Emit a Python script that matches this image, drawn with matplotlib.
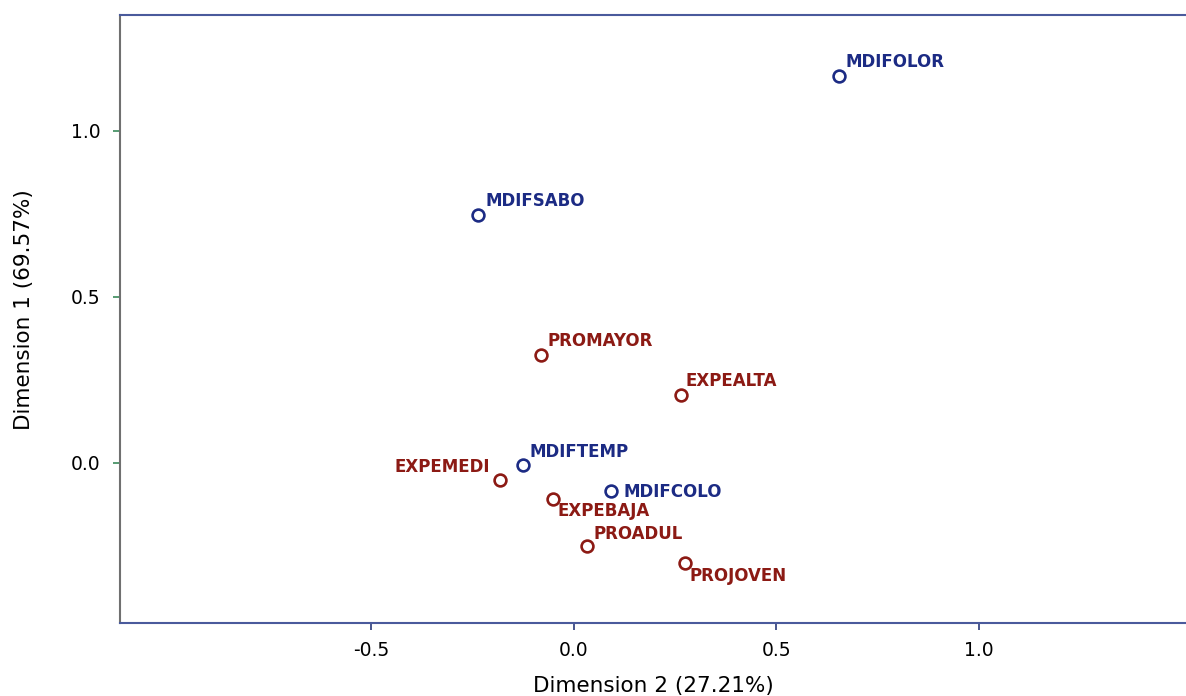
import matplotlib
matplotlib.use("Agg")
import matplotlib.pyplot as plt

# Data
labels = ["MDIFOLOR", "MDIFSABO", "PROMAYOR", "EXPEALTA", "MDIFTEMP",
          "EXPEMEDI", "MDIFCOLO", "EXPEBAJA", "PROADUL", "PROJOVEN"]
dim2 = [0.656, -0.236, -0.080, 0.264, -0.125, -0.182, 0.092, -0.051, 0.034, 0.274]
dim1 = [1.165, 0.746, 0.324, 0.204, -0.008, -0.052, -0.084, -0.110, -0.251, -0.301]
groups = ["col", "col", "row", "row", "col", "row", "col", "row", "row", "row"]
xticks = [-0.5, 0.0, 0.5, 1.0]
yticks = [0.0, 0.5, 1.0]

BLUE = "#1c2b84"
RED = "#8c1a14"
colors = {"col": BLUE, "row": RED}
# label placement (offset pixels, alignment)
offsets = {
    "MDIFOLOR": (6, 14, "left"),
    "MDIFSABO": (7, 14, "left"),
    "PROMAYOR": (6, 14, "left"),
    "EXPEALTA": (5, 14, "left"),
    "MDIFTEMP": (7, 13, "left"),
    "EXPEMEDI": (-10, 13, "right"),
    "MDIFCOLO": (13, -1, "left"),
    "EXPEBAJA": (5, -12, "left"),
    "PROADUL": (6, 12, "left"),
    "PROJOVEN": (5, -13, "left"),
}

plt.rcParams['font.family'] = ['DejaVu Sans']
fig = plt.figure(figsize=(11.86, 6.96), dpi=100)
ax = fig.add_axes([120/1186, 1-622.7/696, 1-120/1186, (622.7-15)/696])

for lab, x, y, g in zip(labels, dim2, dim1, groups):
    c = colors[g]
    ax.plot([x], [y], marker='o', markersize=8.5, markerfacecolor='white',
            markeredgecolor=c, markeredgewidth=1.9, linestyle='none')
    dx, dy, ha = offsets[lab]
    ax.annotate(lab, (x, y), xytext=(dx, dy), textcoords='offset pixels',
                ha=ha, va='center', color=c, fontsize=12, fontweight='bold')

ax.set_xlim(-1.12, 1.512)
ax.set_ylim(-0.482, 1.3485)
ax.set_xticks(xticks)
ax.set_xticklabels([f"{v:.1f}" for v in xticks])
ax.set_yticks(yticks)
ax.set_yticklabels([f"{v:.1f}" for v in yticks])

ax.spines['right'].set_visible(False)
ax.spines['left'].set_color('#707070')
ax.spines['top'].set_color('#4a5a9c')
ax.spines['bottom'].set_color('#4a5a9c')
for s in ax.spines.values():
    s.set_linewidth(1.5)
ax.tick_params(axis='x', colors='#2a3a7a', labelcolor='black', length=5, width=1.2,
               labelsize=13.5, pad=8)
ax.tick_params(axis='y', colors='#3a8a5a', labelcolor='black', length=5, width=1.2,
               labelsize=13.5, pad=9)

ax.set_xlabel("Dimension 2 (27.21%)", fontsize=15.5)
ax.set_ylabel("Dimension 1 (69.57%)", fontsize=15.5)
ax.xaxis.set_label_coords(0.5, -0.088)
ax.yaxis.set_label_coords(-0.081, 0.515)

fig.savefig("out.png", dpi=100)
